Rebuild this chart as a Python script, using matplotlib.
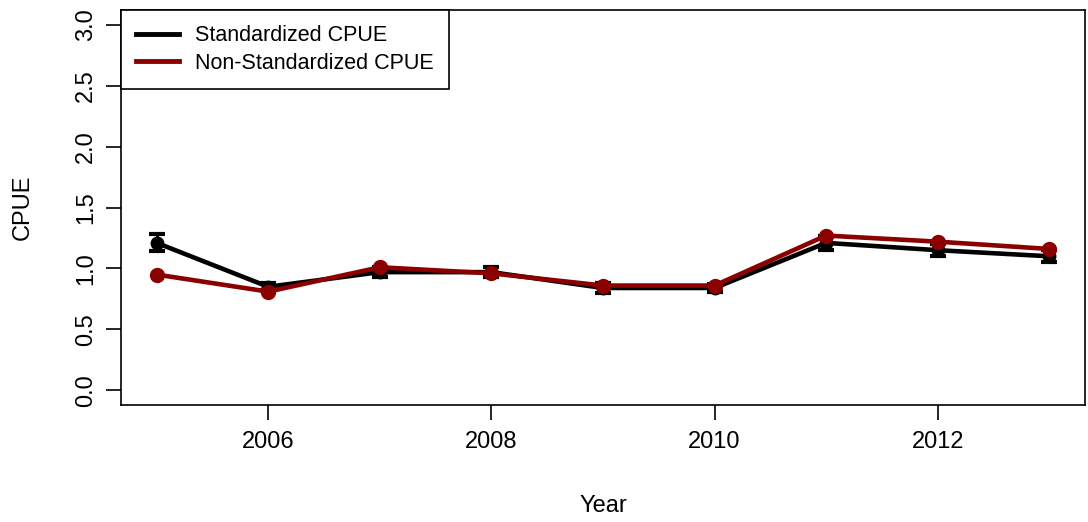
import numpy as np
import matplotlib
matplotlib.use("Agg")
import matplotlib.pyplot as plt

plt.rcParams["font.family"] = ["Liberation Sans", "DejaVu Sans"]

# values
years = [2005, 2006, 2007, 2008, 2009, 2010, 2011, 2012, 2013]
std_cpue = [1.21, 0.85, 0.97, 0.97, 0.84, 0.84, 1.21, 1.15, 1.10]
std_err = [0.07, 0.03, 0.04, 0.04, 0.04, 0.03, 0.06, 0.05, 0.05]
nonstd_cpue = [0.95, 0.81, 1.01, 0.96, 0.86, 0.86, 1.27, 1.22, 1.16]

dark_red = "#8B0000"

fig = plt.figure(figsize=(10.88, 5.22), dpi=100)
ax = fig.add_axes([0.1112, 0.2241, 0.886, 0.7567])

ax.errorbar(years, std_cpue, yerr=std_err, color="black", lw=3.3, marker="o",
            ms=9, capsize=6, capthick=3, elinewidth=2.2, zorder=2)
ax.plot(years, nonstd_cpue, color=dark_red, lw=3.3, marker="o", ms=10, zorder=3)

ax.set_xlim(2004.68, 2013.32)
ax.set_ylim(-0.12, 3.12)
ax.set_xticks([2006, 2008, 2010, 2012])
ax.set_yticks(np.arange(0, 3.01, 0.5))
ax.set_yticklabels(["0.0", "0.5", "1.0", "1.5", "2.0", "2.5", "3.0"],
                   rotation=90, va="center")
ax.tick_params(length=11, width=1.2, labelsize=17, pad=8)
ax.tick_params(axis="y", pad=6)
for s in ax.spines.values():
    s.set_linewidth(1.2)

ax.set_xlabel("Year", fontsize=17, labelpad=30)
ax.set_ylabel("CPUE", fontsize=17, labelpad=30)

h1, = ax.plot([], [], color="black", lw=3.5)
h2, = ax.plot([], [], color=dark_red, lw=3.5)
leg = ax.legend([h1, h2], ["Standardized CPUE", "Non-Standardized CPUE"],
                loc="upper left", bbox_to_anchor=(0, 1), borderaxespad=0,
                fontsize=15.5, fancybox=False, framealpha=1,
                edgecolor="black", handlelength=2.0, borderpad=0.7,
                labelspacing=0.3, handletextpad=0.75)
leg.get_frame().set_linewidth(1.2)

fig.savefig("out.png", dpi=100)
